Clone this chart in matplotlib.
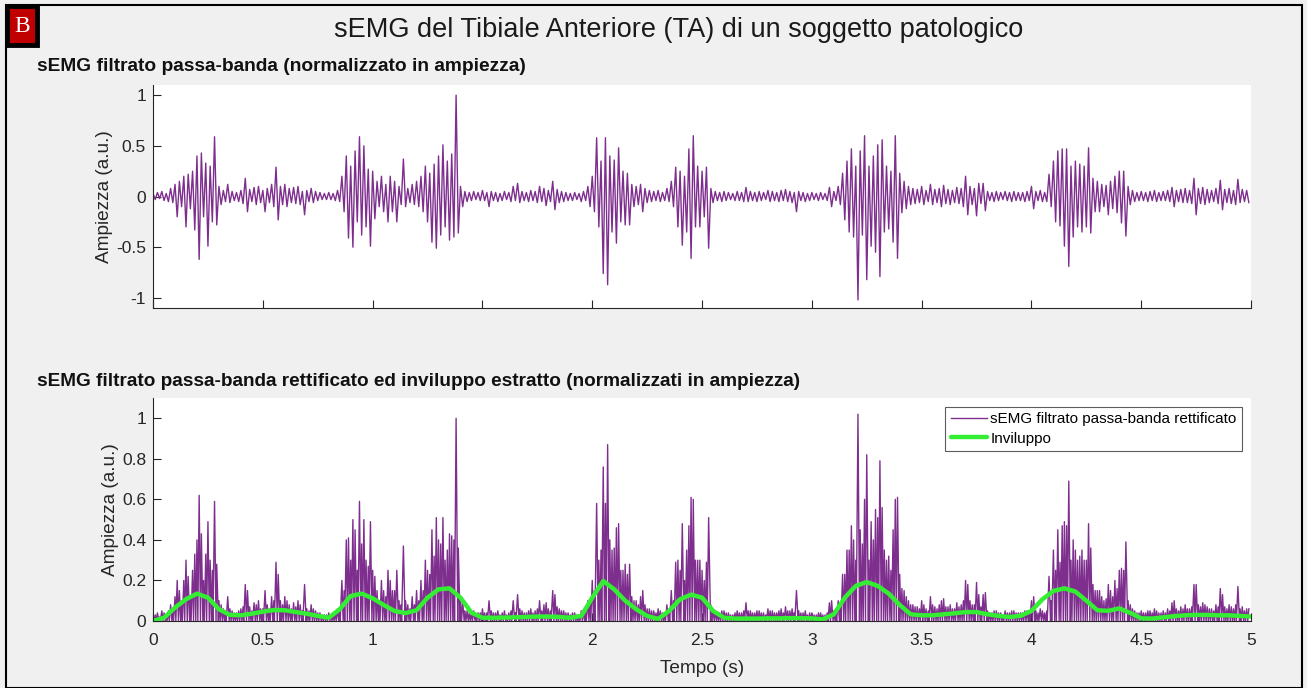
import matplotlib
matplotlib.use('Agg')
import matplotlib.pyplot as plt
import numpy as np
from matplotlib.patches import Rectangle

plt.rcParams['font.family'] = ['Liberation Sans', 'DejaVu Sans']

# sEMG filtrato: picco positivo e negativo letti ogni 0.02 s
bin_dt = 0.02
pos_peak = [
    .03, .04, .05, .03, .08, .12, .15, .20, .22, .25,
    .40, .43, .33, .30, .59, .10, .06, .12, .05, .04,
    .06, .18, .07, .09, .10, .06, .08, .12, .29, .10,
    .12, .08, .09, .10, .05, .06, .08, .05, .04, .03,
    .04, .03, .06, .20, .40, .30, .45, .59, .50, .27,
    .25, .15, .20, .12, .20, .15, .10, .37, .08, .12,
    .15, .20, .30, .23, .32, .40, .51, .35, .42, 1.00,
    .10, .05, .04, .05, .04, .06, .04, .05, .04, .03,
    .05, .04, .10, .13, .05, .04, .06, .05, .10, .08,
    .06, .15, .07, .05, .04, .03, .04, .03, .05, .10,
    .20, .58, .35, .58, .40, .36, .48, .25, .23, .12,
    .10, .12, .08, .06, .05, .06, .04, .08, .15, .29,
    .25, .20, .47, .60, .30, .25, .29, .08, .05, .04,
    .05, .04, .03, .05, .04, .09, .05, .04, .05, .04,
    .06, .05, .04, .06, .07, .05, .04, .05, .04, .03,
    .04, .03, .04, .03, .09, .05, .10, .23, .35, .47,
    .30, .45, .60, .30, .40, .51, .56, .30, .25, .60,
    .23, .15, .10, .08, .07, .10, .06, .12, .07, .08,
    .11, .07, .06, .09, .08, .20, .10, .08, .13, .13,
    .05, .04, .05, .04, .05, .04, .05, .04, .04, .05,
    .10, .05, .06, .04, .22, .35, .45, .47, .47, .30,
    .35, .32, .30, .48, .18, .15, .12, .11, .15, .20,
    .25, .25, .10, .06, .04, .05, .04, .05, .06, .04,
    .05, .06, .09, .06, .07, .08, .06, .18, .08, .09,
    .07, .06, .08, .16, .07, .08, .06, .17, .07, .06,
]
neg_peak = [
    -.03, -.02, -.04, -.05, -.06, -.20, -.10, -.30, -.12, -.33,
    -.62, -.20, -.49, -.25, -.28, -.08, -.05, -.06, -.04, -.05,
    -.07, -.15, -.05, -.08, -.06, -.15, -.06, -.10, -.23, -.08,
    -.10, -.06, -.07, -.08, -.18, -.05, -.06, -.04, -.03, -.03,
    -.03, -.04, -.05, -.15, -.41, -.50, -.25, -.38, -.30, -.49,
    -.22, -.10, -.15, -.25, -.15, -.25, -.08, -.10, -.06, -.08,
    -.10, -.15, -.25, -.45, -.51, -.38, -.30, -.43, -.40, -.36,
    -.10, -.05, -.04, -.03, -.04, -.04, -.10, -.04, -.05, -.04,
    -.03, -.05, -.04, -.06, -.04, -.05, -.04, -.06, -.05, -.09,
    -.05, -.13, -.06, -.05, -.04, -.04, -.03, -.05, -.04, -.10,
    -.15, -.30, -.76, -.87, -.35, -.46, -.25, -.28, -.28, -.10,
    -.08, -.15, -.06, -.05, -.04, -.05, -.04, -.05, -.10, -.30,
    -.48, -.35, -.61, -.30, -.30, -.20, -.51, -.06, -.04, -.05,
    -.04, -.03, -.04, -.04, -.05, -.05, -.04, -.05, -.04, -.03,
    -.05, -.04, -.05, -.04, -.05, -.06, -.15, -.04, -.05, -.04,
    -.03, -.04, -.03, -.04, -.10, -.04, -.08, -.23, -.35, -.40,
    -1.02, -.38, -.82, -.49, -.55, -.79, -.35, -.32, -.45, -.61,
    -.16, -.12, -.08, -.07, -.06, -.08, -.05, -.08, -.06, -.10,
    -.07, -.08, -.06, -.07, -.10, -.18, -.08, -.19, -.07, -.14,
    -.04, -.05, -.04, -.03, -.04, -.05, -.04, -.04, -.05, -.04,
    -.12, -.04, -.05, -.05, -.10, -.25, -.29, -.49, -.69, -.40,
    -.30, -.35, -.30, -.36, -.15, -.15, -.10, -.18, -.12, -.16,
    -.26, -.39, -.08, -.05, -.04, -.04, -.05, -.04, -.05, -.04,
    -.04, -.05, -.10, -.05, -.06, -.06, -.07, -.18, -.07, -.08,
    -.06, -.05, -.07, -.13, -.06, -.07, -.08, -.06, -.05, -.06,
]

# inviluppo letto ogni 0.05 s
env_dt = 0.05
envelope = [
    0.0, .016, .066, .107, .135, .115, .058, .030, .028, .036,
    .046, .054, .053, .044, .036, .025, .016, .058, .123, .135,
    .112, .079, .049, .039, .053, .115, .156, .161, .115, .041,
    .016, .016, .017, .018, .020, .022, .022, .020, .016, .025,
    .115, .197, .156, .100, .058, .025, .010, .050, .107, .130,
    .115, .050, .016, .012, .012, .012, .013, .013, .014, .014,
    .013, .008, .033, .115, .173, .192, .173, .135, .079, .033,
    .028, .028, .033, .038, .044, .044, .033, .025, .020, .025,
    .050, .107, .148, .161, .145, .100, .053, .050, .062, .040,
    .013, .012, .018, .024, .028, .030, .030, .028, .028, .025,
    .022,
]

pos = np.array(pos_peak)
neg = np.array(neg_peak)
n = len(pos)
t_sig = np.empty(2 * n)
sig = np.empty(2 * n)
t_sig[0::2] = np.arange(n) * bin_dt
t_sig[1::2] = np.arange(n) * bin_dt + bin_dt / 2
sig[0::2] = pos
sig[1::2] = neg

# segnale rettificato: |x| con passaggi per lo zero del tracciato
t_rect = [t_sig[0]]
rect = [abs(sig[0])]
for i in range(1, len(sig)):
    a, b = sig[i - 1], sig[i]
    ta, tb = t_sig[i - 1], t_sig[i]
    if a * b < 0:
        t_rect.append(ta + (tb - ta) * a / (a - b))
        rect.append(0.0)
    t_rect.append(tb)
    rect.append(abs(b))

t_env = np.arange(len(envelope)) * env_dt

purple = '#7E2F8E'
green = '#33EE33'
axcol = '#262626'

fig = plt.figure(figsize=(13.07, 6.88), dpi=100, facecolor='#F0F0F0')

ax1 = fig.add_axes([0.1171, 0.5523, 0.8401, 0.3241])
ax1.plot(t_sig, sig, color=purple, lw=1.0)
ax1.set_xlim(0, 5)
ax1.set_ylim(-1.1, 1.1)
ax1.set_yticks([-1, -0.5, 0, 0.5, 1])
ax1.set_yticklabels(['-1', '-0.5', '0', '0.5', '1'])
ax1.set_xticks(np.arange(0, 5.01, 0.5))
ax1.set_xticklabels([])
ax1.set_ylabel('Ampiezza (a.u.)', fontsize=13.7, color=axcol, labelpad=2)

ax2 = fig.add_axes([0.1171, 0.0974, 0.8401, 0.3241])
ax2.plot(t_rect, rect, color=purple, lw=1.0, label='sEMG filtrato passa-banda rettificato')
ax2.plot(t_env, envelope, color=green, lw=3.2, label='Inviluppo', solid_capstyle='round', solid_joinstyle='round')
ax2.set_xlim(0, 5)
ax2.set_ylim(0, 1.1)
ax2.set_yticks([0, 0.2, 0.4, 0.6, 0.8, 1])
ax2.set_yticklabels(['0', '0.2', '0.4', '0.6', '0.8', '1'])
ax2.set_xticks(np.arange(0, 5.01, 0.5))
ax2.set_xticklabels(['0', '0.5', '1', '1.5', '2', '2.5', '3', '3.5', '4', '4.5', '5'])
ax2.set_ylabel('Ampiezza (a.u.)', fontsize=13.7, color=axcol, labelpad=2)
ax2.set_xlabel('Tempo (s)', fontsize=13.7, color=axcol, labelpad=8)
leg = ax2.legend(loc='upper right', fontsize=11, frameon=True, fancybox=False,
                 handlelength=2.4, handletextpad=0.2, borderpad=0.35, labelspacing=0.35,
                 borderaxespad=0.0, bbox_to_anchor=(0.9918, 0.96))
leg.get_frame().set_edgecolor('#333333')
leg.get_frame().set_linewidth(0.8)

for ax in (ax1, ax2):
    ax.set_facecolor('white')
    ax.spines['top'].set_visible(False)
    ax.spines['right'].set_visible(False)
    ax.spines['left'].set_color(axcol)
    ax.spines['bottom'].set_color(axcol)
    ax.tick_params(direction='in', length=6, width=0.8, colors=axcol, labelsize=12.5)
    ax.tick_params(axis='x', pad=9)
    ax.tick_params(axis='y', pad=5)

fig.text(0.519, 0.957, 'sEMG del Tibiale Anteriore (TA) di un soggetto patologico',
         ha='center', va='center', fontsize=19.5, color='#1A1A1A')
fig.text(0.0283, 0.903, 'sEMG filtrato passa-banda (normalizzato in ampiezza)',
         ha='left', va='center', fontsize=13.8, fontweight='bold', color='#111111')
fig.text(0.0283, 0.446, 'sEMG filtrato passa-banda rettificato ed inviluppo estratto (normalizzati in ampiezza)',
         ha='left', va='center', fontsize=13.7, fontweight='bold', color='#111111')

# cornice e etichetta "B"
fig.patches.append(Rectangle((0.0045, 0.0), 0.992, 0.9925, transform=fig.transFigure,
                             fill=False, edgecolor='black', lw=1.5))
fig.patches.append(Rectangle((0.0055, 0.934), 0.0225, 0.057, transform=fig.transFigure,
                             facecolor='#C00000', edgecolor='black', lw=3.5))
fig.text(0.0168, 0.961, 'B', ha='center', va='center', fontsize=17,
         family=['Liberation Serif', 'DejaVu Serif'], color='white')

fig.savefig('out.png', dpi=100, facecolor=fig.get_facecolor())
